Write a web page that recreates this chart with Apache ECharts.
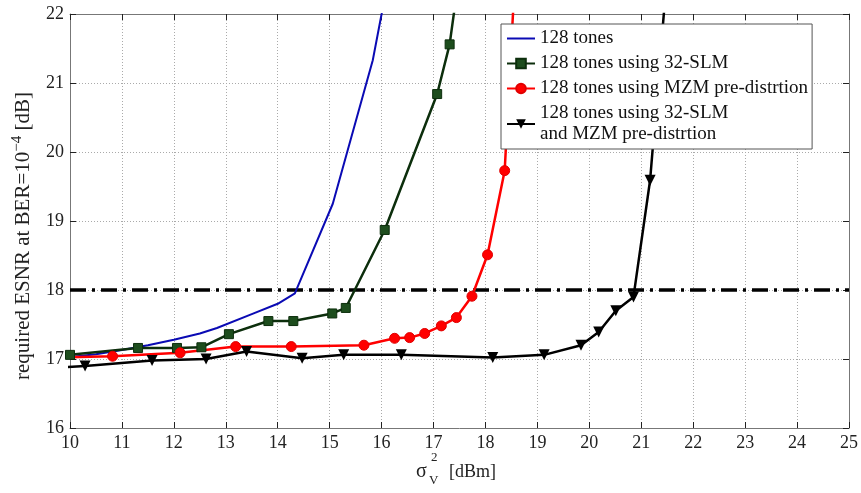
<!DOCTYPE html>
<html>
<head>
<meta charset="utf-8">
<script src="https://cdn.jsdelivr.net/npm/echarts@6/dist/echarts.min.js"></script>
<style>html,body{margin:0;padding:0;background:#fff}#c{width:861px;height:493px}</style>
</head>
<body>
<div id="c"></div>
<script>
// ---- data ----
const seriesNames = [
  '128 tones',
  '128 tones using 32-SLM',
  '128 tones using MZM pre-distrtion',
  '128 tones using 32-SLM\nand MZM pre-distrtion'
];
const tones128 = [[10,17.03],[10.5,17.07],[11,17.13],[11.5,17.2],[12,17.28],[12.5,17.37],[12.83,17.45],[13.5,17.65],[14,17.8],[14.33,17.95],[15.06,19.25],[15.83,21.33],[16.0,22.0],[16.1,22.5]];
const slm32 = [[10,17.06],[11.31,17.16],[12.06,17.16],[12.53,17.17],[13.06,17.36],[13.82,17.55],[14.3,17.55],[15.05,17.66],[15.31,17.74],[16.06,18.87],[17.07,20.84],[17.31,21.56],[17.5,22.6]];
const mzm = [[9.7,17.02],[10.82,17.04],[12.12,17.09],[13.19,17.18],[14.26,17.18],[15.66,17.2],[16.25,17.3],[16.54,17.31],[16.83,17.37],[17.15,17.48],[17.44,17.6],[17.74,17.91],[18.04,18.51],[18.37,19.73],[18.6,23.0]];
const slmMzm = [[9.7,16.87],[10.29,16.9],[11.58,16.98],[12.62,17.0],[13.4,17.11],[14.47,17.01],[15.27,17.06],[16.38,17.06],[18.14,17.02],[19.13,17.06],[19.84,17.2],[20.18,17.39],[20.51,17.7],[20.85,17.9],[21.17,19.59],[21.5,22.6]];
const threshold = [[10,18],[25,18]];
const xTicks = {min:10, max:25, interval:1};
const yTicks = {min:16, max:22, interval:1};

const serif = '"Liberation Serif","DejaVu Serif",serif';
const chart = echarts.init(document.getElementById('c'), null, {renderer:'canvas'});
const axisCommon = {
  type:'value',
  axisLine:{show:true, onZero:false, lineStyle:{color:'#777', width:1}},
  axisTick:{show:true, inside:true, length:6, lineStyle:{color:'#222', width:1}},
  splitLine:{show:false}
};
chart.setOption({
  animation:false,
  backgroundColor:'#fff',
  grid:{left:70, right:11, top:14, bottom:65},
  xAxis:[
    Object.assign({}, axisCommon, {
      min:xTicks.min, max:xTicks.max, interval:xTicks.interval, position:'bottom',
      axisLabel:{color:'#222', fontFamily:serif, fontSize:18, margin:6},
      splitLine:{show:true, lineStyle:{color:'#aaa', type:[1,2], width:1}}
    }),
    Object.assign({}, axisCommon, {
      min:xTicks.min, max:xTicks.max, interval:xTicks.interval, position:'top',
      axisLabel:{show:false}
    })
  ],
  yAxis:[
    Object.assign({}, axisCommon, {
      min:yTicks.min, max:yTicks.max, interval:yTicks.interval, position:'left',
      axisLabel:{color:'#222', fontFamily:serif, fontSize:18, margin:6},
      splitLine:{show:true, lineStyle:{color:'#aaa', type:[1,2], width:1}},
      name:'required ESNR at BER=10{sup|−4} [dB]',
      nameLocation:'middle', nameGap:33, nameRotate:90,
      nameTextStyle:{color:'#222', fontFamily:serif, fontSize:21, padding:[0,30,0,0],
        rich:{sup:{fontFamily:serif, fontSize:15, color:'#222', padding:[0,0,12,0]}}}
    }),
    Object.assign({}, axisCommon, {
      min:yTicks.min, max:yTicks.max, interval:yTicks.interval, position:'right',
      axisLabel:{show:false}
    })
  ],
  legend:{
    data:[
      {name:seriesNames[0], itemStyle:{opacity:0}},
      seriesNames[1], seriesNames[2], seriesNames[3]
    ],
    orient:'vertical',
    left:501, top:24,
    backgroundColor:'#fff', borderColor:'#555', borderWidth:1, borderRadius:0,
    padding:[4,4,4,5],
    itemWidth:28, itemHeight:12, itemGap:4,
    textStyle:{color:'#111', fontFamily:serif, fontSize:19, lineHeight:21}
  },
  graphic:[
    {type:'text', left:416, top:462, style:{text:'σ', font:'20px '+serif, fill:'#222'}},
    {type:'text', left:431, top:451, style:{text:'2', font:'13px '+serif, fill:'#222'}},
    {type:'text', left:429, top:474, style:{text:'V', font:'13px '+serif, fill:'#222'}},
    {type:'text', left:449, top:463, style:{text:'[dBm]', font:'18px '+serif, fill:'#222'}}
  ],
  series:[
    {name:'threshold', type:'line', data:threshold, symbol:'none', silent:true,
     lineStyle:{color:'#000', width:3.5, type:[16,6,3,6]}, z:1},
    {name:seriesNames[0], type:'line', data:tones128, symbol:'none', clip:true,
     lineStyle:{color:'#0a0ab4', width:2}, itemStyle:{color:'#0a0ab4'}},
    {name:seriesNames[1], type:'line', data:slm32, symbol:'rect', symbolSize:9, clip:true,
     lineStyle:{color:'#0c2e0c', width:2.5},
     itemStyle:{color:'#1d4d1d', borderColor:'#0c2e0c', borderWidth:1}},
    {name:seriesNames[2], type:'line', data:mzm, symbol:'circle', symbolSize:10, clip:true,
     lineStyle:{color:'#ff0000', width:2.5},
     itemStyle:{color:'#ff0000', borderColor:'#e00000', borderWidth:1}},
    {name:seriesNames[3], type:'line', data:slmMzm, symbol:'triangle', symbolRotate:180, symbolSize:11, clip:true,
     lineStyle:{color:'#000', width:2.5},
     itemStyle:{color:'#000'}}
  ]
});
</script>
</body>
</html>
